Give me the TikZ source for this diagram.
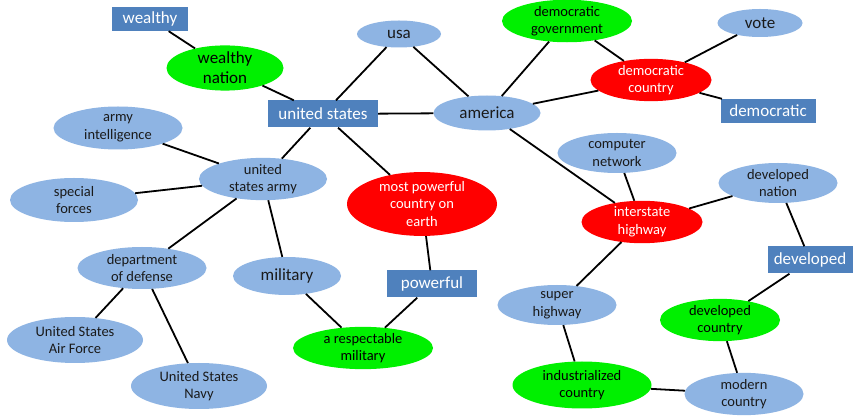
\documentclass[tikz,border=0pt]{standalone}
\usepackage{fontspec}
\setmainfont{Carlito}
\usetikzlibrary{shapes.geometric}
\definecolor{lblue}{HTML}{8EB4E3}
\definecolor{dblue}{HTML}{4F81BD}
\definecolor{lgreen}{HTML}{00F000}
\definecolor{lred}{HTML}{FF0000}
\definecolor{txt}{HTML}{1A1A1A}
\tikzset{
  ell/.style={ellipse, inner sep=0pt, align=center, text=txt, font=\fontsize{14.5}{17.5}\selectfont},
  bl/.style={ell, fill=lblue},
  gr/.style={ell, fill=lgreen, text=black},
  rd/.style={ell, fill=lred, text=white},
  big/.style={font=\fontsize{17}{20}\selectfont},
  rbox/.style={rectangle, fill=dblue, text=white, inner sep=0pt, font=\fontsize{17}{20}\selectfont},
  link/.style={draw=black, line width=1.8pt},
}
\begin{document}
\begin{tikzpicture}[x=1pt,y=-1pt]
\useasboundingbox (0,0) rectangle (854,419);
\fill[white] (0,0) rectangle (854,419);
% nodes
\node[rbox, minimum width=76pt, minimum height=24pt] (wealthy) at (150,19) {wealthy};
\node[gr, big, minimum width=117pt, minimum height=40pt] (wnation) at (225,68) {wealthy\\nation};
\node[bl, big, minimum width=84pt, minimum height=27pt] (usa) at (399,34) {usa};
\node[rbox, minimum width=110pt, minimum height=27pt] (us) at (323,114) {united states};
\node[bl, big, minimum width=107pt, minimum height=35pt] (america) at (487,113) {america};
\node[gr, minimum width=130pt, minimum height=42pt] (demgov) at (567,21) {democratic\\government};
\node[rd, minimum width=121pt, minimum height=40pt] (demcountry) at (651,80) {democratic\\country};
\node[bl, big, minimum width=85pt, minimum height=28pt] (vote) at (760,23) {vote};
\node[rbox, minimum width=95pt, minimum height=24pt] (democratic) at (768,111) {democratic};
\node[bl, minimum width=129pt, minimum height=43pt] (armyint) at (118,128) {army\\intelligence};
\node[bl, minimum width=128pt, minimum height=42pt] (usarmy) at (263,179) {united\\states army};
\node[bl, minimum width=128pt, minimum height=44pt] (special) at (74,200) {special\\forces};
\node[rd, minimum width=150pt, minimum height=52pt] (mostpow) at (422,204) {most powerful\\country on\\earth};
\node[rbox, minimum width=90pt, minimum height=27pt] (powerful) at (432,284) {powerful};
\node[gr, minimum width=140pt, minimum height=42pt] (respmil) at (363,348) {a respectable\\military};
\node[bl, big, minimum width=108pt, minimum height=38pt] (military) at (287,276) {military};
\node[bl, minimum width=129pt, minimum height=42pt] (dod) at (142,268) {department\\of defense};
\node[bl, minimum width=136pt, minimum height=46pt] (usaf) at (75,340) {United States\\Air Force};
\node[bl, minimum width=136pt, minimum height=46pt] (usn) at (199,386) {United States\\Navy};
\node[bl, minimum width=119pt, minimum height=40pt] (compnet) at (617,153) {computer\\network};
\node[bl, minimum width=119pt, minimum height=40pt] (devnation) at (778,183) {developed\\nation};
\node[rd, minimum width=121pt, minimum height=41pt] (interstate) at (642,222) {interstate\\highway};
\node[rbox, minimum width=85pt, minimum height=27pt] (developed) at (810,260) {developed};
\node[bl, minimum width=119pt, minimum height=40pt] (superhw) at (557,305) {super\\highway};
\node[gr, minimum width=120pt, minimum height=41pt] (devcountry) at (720,320) {developed\\country};
\node[gr, minimum width=139pt, minimum height=47pt] (indcountry) at (582,385) {industrialized\\country};
\node[bl, minimum width=119pt, minimum height=41pt] (modcountry) at (744,394) {modern\\country};
% links
\draw[link] (wealthy) -- (wnation);
\draw[link] (wnation) -- (us);
\draw[link] (us) -- (usa);
\draw[link] (us) -- (america);
\draw[link] (usa) -- (america);
\draw[link] (us) -- (usarmy);
\draw[link] (us) -- (mostpow);
\draw[link] (america) -- (demgov);
\draw[link] (america) -- (demcountry);
\draw[link] (demgov) -- (demcountry);
\draw[link] (demcountry) -- (vote);
\draw[link] (demcountry) -- (democratic);
\draw[link] (america) -- (interstate);
\draw[link] (usarmy) -- (armyint);
\draw[link] (usarmy) -- (special);
\draw[link] (usarmy) -- (dod);
\draw[link] (usarmy) -- (military);
\draw[link] (dod) -- (usaf);
\draw[link] (dod) -- (usn);
\draw[link] (military) -- (respmil);
\draw[link] (mostpow) -- (powerful);
\draw[link] (powerful) -- (respmil);
\draw[link] (compnet) -- (interstate);
\draw[link] (interstate) -- (devnation);
\draw[link] (interstate) -- (superhw);
\draw[link] (devnation) -- (developed);
\draw[link] (developed) -- (devcountry);
\draw[link] (devcountry) -- (modcountry);
\draw[link] (superhw) -- (indcountry);
\draw[link] (indcountry) -- (modcountry);
\end{tikzpicture}
\end{document}
